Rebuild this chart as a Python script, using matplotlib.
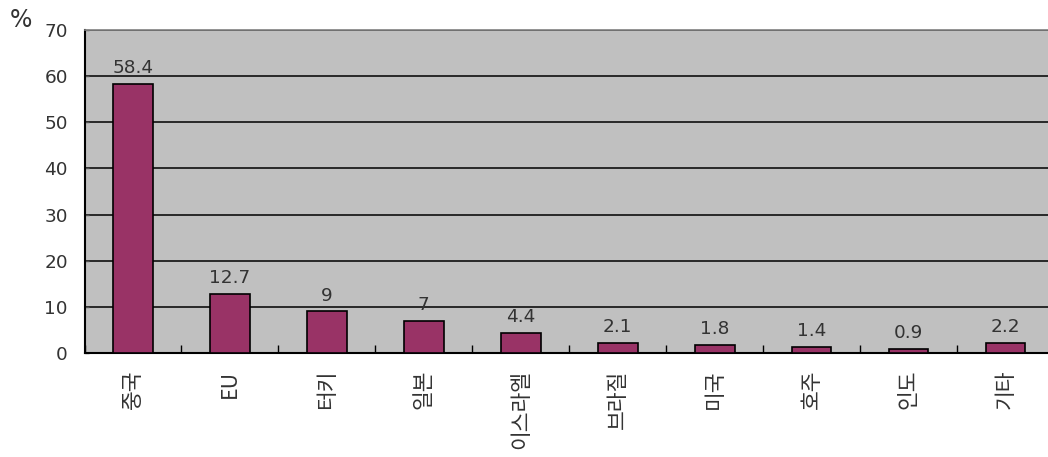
import matplotlib
matplotlib.use("Agg")
import matplotlib.pyplot as plt
import numpy as np

plt.rcParams['font.family'] = ['DejaVu Sans', 'Noto Sans CJK KR']

categories = ["중국", "EU", "터키", "일본", "이스라엘", "브라질", "미국", "호주", "인도", "기타"]
values = [58.4, 12.7, 9, 7, 4.4, 2.1, 1.8, 1.4, 0.9, 2.2]
value_labels = ["58.4", "12.7", "9", "7", "4.4", "2.1", "1.8", "1.4", "0.9", "2.2"]
yticks = [0, 10, 20, 30, 40, 50, 60, 70]

W, H = 1048, 457
fig = plt.figure(figsize=(W / 100, H / 100), dpi=100)
left_px, right_px, top_px, bottom_px = 84.5, 1054, 30, 353
ax = fig.add_axes([left_px / W, (H - bottom_px) / H,
                   (right_px - left_px) / W, (bottom_px - top_px) / H])
ax.set_facecolor("#C0C0C0")

x = np.arange(len(categories))
ax.bar(x, values, width=0.41, color="#993366", edgecolor="black", linewidth=1.2, zorder=3)

num_font = dict(family=['DejaVu Sans'], size=13.3, color="#333333")
kr_font = dict(family=['Noto Sans CJK KR', 'DejaVu Sans'], size=15.5, color="#333333", weight='light')

ax.set_xlim(-0.5, len(categories) - 0.5)
ax.set_ylim(0, 70)
ax.set_yticks(yticks)
ax.set_yticklabels([str(v) for v in yticks], **num_font)
ax.yaxis.grid(True, color="black", linewidth=1.1, zorder=1)
ax.set_axisbelow(True)

ax.set_xticks(x)
ax.set_xticklabels(categories, rotation=90, va="top", ha="center", **kr_font)
ax.set_xticks(np.arange(-0.5, len(categories), 1), minor=True)
ax.tick_params(axis="x", which="major", length=0, pad=12)
ax.tick_params(axis="x", which="minor", direction="in", length=6, width=1, color="black")
ax.tick_params(axis="y", direction="in", length=3, width=1, color="#555555", pad=12)

for s in ["left", "bottom"]:
    ax.spines[s].set_color("black")
    ax.spines[s].set_linewidth(1.5)
ax.spines["top"].set_color("#808080")
ax.spines["top"].set_linewidth(1.2)
ax.spines["right"].set_visible(False)

for xi, v, lab in zip(x, values, value_labels):
    ax.annotate(lab, (xi, v), xytext=(0, 5), textcoords="offset points",
                ha="center", va="bottom", **num_font)

fig.text(21 / W, 1 - 20 / H, "%", family=['DejaVu Sans'], fontsize=17,
         ha="center", va="center", color="#333333")

fig.savefig("out.png", dpi=100)
